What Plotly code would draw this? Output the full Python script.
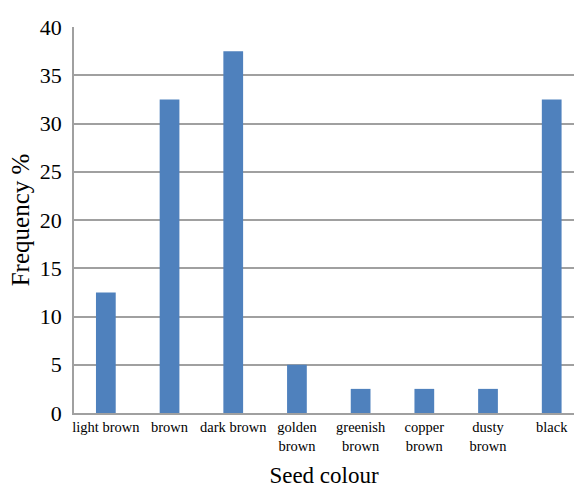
import plotly.graph_objects as go

# Seed colour categories and their frequencies (%)
categories = ["light brown", "brown", "dark brown", "golden<br>brown",
              "greenish<br>brown", "copper<br>brown", "dusty<br>brown", "black"]
frequency = [12.5, 32.5, 37.5, 5, 2.5, 2.5, 2.5, 32.5]
y_ticks = [0, 5, 10, 15, 20, 25, 30, 35, 40]

fig = go.Figure(
    go.Bar(
        x=list(range(len(categories))),
        y=frequency,
        width=0.31,
        marker=dict(color="#4F81BD", line=dict(width=0)),
    )
)

serif = "Liberation Serif, Times New Roman, serif"

fig.update_layout(
    width=574,
    height=490,
    margin=dict(l=74, r=0, t=27, b=77),
    paper_bgcolor="white",
    plot_bgcolor="white",
    showlegend=False,
    font=dict(family=serif, color="black"),
    xaxis=dict(
        tickmode="array",
        tickvals=list(range(len(categories))),
        ticktext=categories,
        range=[-0.5, 7.35],
        showgrid=False,
        showline=True,
        linecolor="#A0A0A0",
        linewidth=1.5,
        ticks="",
        tickfont=dict(family=serif, size=14.5, color="black"),
        title=dict(text="Seed colour", font=dict(family=serif, size=23), standoff=14),
        fixedrange=True,
    ),
    yaxis=dict(
        range=[0, 40],
        tickmode="array",
        tickvals=y_ticks,
        showgrid=True,
        gridcolor="#A0A0A0",
        gridwidth=1.5,
        showline=True,
        linecolor="#A0A0A0",
        linewidth=1.5,
        zeroline=False,
        ticks="",
        ticklabelstandoff=6,
        tickfont=dict(family=serif, size=22, color="black"),
        title=dict(text="Frequency %", font=dict(family=serif, size=25), standoff=3),
        fixedrange=True,
    ),
)

fig.write_html("out.html")
